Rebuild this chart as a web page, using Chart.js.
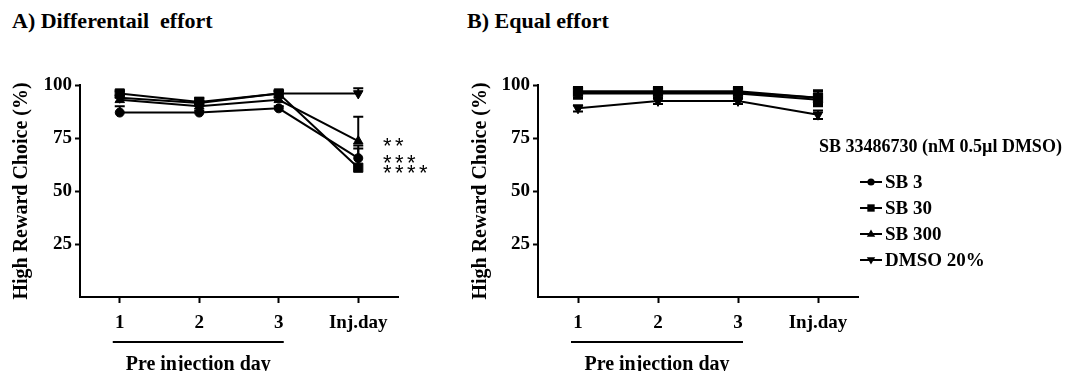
<!DOCTYPE html>
<html>
<head>
<meta charset="utf-8">
<script src="https://cdn.jsdelivr.net/npm/chart.js@4.4.1/dist/chart.umd.min.js"></script>
<style>
body { margin: 0; background: #fff; width: 1071px; height: 371px; overflow: hidden; position: relative; font-family: 'Liberation Serif', serif; }
.panel-title { position: absolute; top: 8px; font-weight: bold; font-size: 22px; white-space: pre; color: #000; }
canvas { position: absolute; top: 0; }
</style>
</head>
<body>
<div class="panel-title" style="left:12px">A) Differentail  effort</div>
<div class="panel-title" style="left:467px">B) Equal effort</div>
<canvas id="chartA" width="450" height="371" style="left:0"></canvas>
<canvas id="chartB" width="631" height="371" style="left:440px"></canvas>
<script>
// Categories and series names
const days = ['1', '2', '3', 'Inj.day'];
const seriesNames = ['SB 3', 'SB 30', 'SB 300', 'DMSO 20%'];
const legendTitle = 'SB 33486730 (nM 0.5\u00b5l DMSO)';

// A) Differential effort
const diffSB3 = [87, 87, 89, 65.5];
const diffSB30 = [96, 92, 96, 61];
const diffSB300 = [93, 90, 93, 73.5];
const diffDMSO = [94, 91.5, 96, 96];
const diffSB3Err = [3, 1, 1, 6];
const diffSB30Err = [1, 2, 1, 9];
const diffSB300Err = [1, 1, 1, 11.5];
const diffDMSOErr = [1, 1, 1, 2.5];
const diffStars = ['***', '****', '**', ''];

// B) Equal effort
const eqSB3 = [96.5, 96.5, 96.5, 94];
const eqSB30 = [97, 97, 97, 94];
const eqSB300 = [96, 96, 96, 93];
const eqDMSO = [89, 92.5, 92.5, 86];
const eqSB3Err = [2.5, 2.5, 2.5, 3];
const eqSB30Err = [2, 2, 2, 3.5];
const eqSB300Err = [2.5, 2.5, 2.5, 3];
const eqDMSOErr = [1.5, 1.5, 1.5, 2];

const markers = [
    { pointStyle: 'circle', radius: 4.5, rotation: 0 },
    { pointStyle: 'rect', radius: 6.5, rotation: 0 },
    { pointStyle: 'triangle', radius: 5.5, rotation: 0 },
    { pointStyle: 'triangle', radius: 5.5, rotation: 180 }
];

const serif = 'Liberation Serif';

function drawMarker(ctx, style, r, rot, x, y) {
    ctx.beginPath();
    if (style === 'circle') {
        ctx.arc(x, y, r, 0, Math.PI * 2);
    } else if (style === 'rect') {
        const s = r * Math.SQRT1_2;
        ctx.rect(x - s, y - s, 2 * s, 2 * s);
    } else {
        const d = rot === 180 ? -1 : 1;
        ctx.moveTo(x, y - d * r);
        ctx.lineTo(x + r * 0.95, y + d * r * 0.6);
        ctx.lineTo(x - r * 0.95, y + d * r * 0.6);
        ctx.closePath();
    }
    ctx.fill();
}

function makeDatasets(values, errors, stars) {
    return values.map((vals, i) => ({
        label: seriesNames[i],
        data: vals,
        errors: errors[i],
        star: stars ? stars[i] : '',
        borderColor: '#000',
        backgroundColor: '#000',
        borderWidth: 2,
        pointStyle: markers[i].pointStyle,
        pointRadius: markers[i].radius,
        pointRotation: markers[i].rotation,
        pointBackgroundColor: '#000',
        pointBorderColor: '#000',
        pointBorderWidth: 1,
        tension: 0,
        fill: false,
        clip: false
    }));
}

// error bars (upper only or both directions)
const errorBarPlugin = {
    id: 'errorBars',
    afterDatasetsDraw(chart, args, opts) {
        const ctx = chart.ctx;
        const ys = chart.scales.y;
        ctx.save();
        ctx.strokeStyle = '#000';
        ctx.lineWidth = 2;
        chart.data.datasets.forEach((ds, i) => {
            const meta = chart.getDatasetMeta(i);
            ds.data.forEach((v, j) => {
                const e = ds.errors[j];
                const x = meta.data[j].x;
                const top = ys.getPixelForValue(v + e);
                const bot = opts.both ? ys.getPixelForValue(v - e) : ys.getPixelForValue(v);
                ctx.beginPath();
                ctx.moveTo(x, top); ctx.lineTo(x, bot);
                ctx.moveTo(x - 5, top); ctx.lineTo(x + 5, top);
                if (opts.both) { ctx.moveTo(x - 5, bot); ctx.lineTo(x + 5, bot); }
                ctx.stroke();
            });
        });
        ctx.restore();
    }
};

// significance stars next to the injection day points
const starsPlugin = {
    id: 'stars',
    afterDatasetsDraw(chart) {
        const ctx = chart.ctx;
        ctx.save();
        ctx.fillStyle = '#000';
        ctx.font = '22px "Liberation Sans"';
        ctx.textAlign = 'center';
        ctx.textBaseline = 'alphabetic';
        chart.data.datasets.forEach((ds, i) => {
            if (!ds.star) return;
            const meta = chart.getDatasetMeta(i);
            const last = meta.data[meta.data.length - 1];
            for (let k = 0; k < ds.star.length; k++) {
                ctx.fillText('*', last.x + 29 + k * 12, last.y + 12);
            }
        });
        ctx.restore();
    }
};

// "Pre injection day" bracket under the first three days
const preInjPlugin = {
    id: 'preInj',
    afterDraw(chart) {
        const ctx = chart.ctx;
        const xs = chart.scales.x;
        const bottom = chart.chartArea.bottom;
        const x0 = xs.getPixelForValue(0) - 7;
        const x1 = xs.getPixelForValue(2) + 5;
        ctx.save();
        ctx.strokeStyle = '#000';
        ctx.lineWidth = 2;
        ctx.beginPath();
        ctx.moveTo(x0, bottom + 45);
        ctx.lineTo(x1, bottom + 45);
        ctx.stroke();
        ctx.fillStyle = '#000';
        ctx.font = 'bold 20px "' + serif + '"';
        ctx.textAlign = 'center';
        ctx.textBaseline = 'alphabetic';
        ctx.fillText('Pre injection day', (x0 + x1) / 2, bottom + 73);
        ctx.restore();
    }
};

// legend on the right of panel B
const sideLegendPlugin = {
    id: 'sideLegend',
    afterDraw(chart, args, opts) {
        if (!opts.show) return;
        const ctx = chart.ctx;
        ctx.save();
        ctx.fillStyle = '#000';
        ctx.strokeStyle = '#000';
        ctx.textBaseline = 'middle';
        ctx.textAlign = 'left';
        ctx.font = 'bold 18px "' + serif + '"';
        ctx.fillText(legendTitle, opts.x, opts.y);
        ctx.font = 'bold 19px "' + serif + '"';
        chart.data.datasets.forEach((ds, i) => {
            const y = opts.itemY + i * opts.step;
            ctx.lineWidth = 2;
            ctx.beginPath();
            ctx.moveTo(opts.lineX, y);
            ctx.lineTo(opts.lineX + 22, y);
            ctx.stroke();
            drawMarker(ctx, markers[i].pointStyle, markers[i].radius * 0.8, markers[i].rotation, opts.lineX + 11, y);
            ctx.fillText(ds.label, opts.lineX + 25, y + 1);
        });
        ctx.restore();
    }
};

function makeChart(id, datasets, cfg) {
    const tickFont = { family: serif, weight: 'bold', size: 19 };
    return new Chart(document.getElementById(id), {
        type: 'line',
        data: { labels: days, datasets: datasets },
        plugins: [errorBarPlugin, starsPlugin, preInjPlugin, sideLegendPlugin],
        options: {
            responsive: false,
            animation: false,
            layout: { padding: { top: 85, right: cfg.padRight, left: 0, bottom: 0 } },
            plugins: {
                legend: { display: false },
                tooltip: { enabled: false },
                errorBars: { both: cfg.bothErrors },
                sideLegend: cfg.legend
            },
            scales: {
                x: {
                    type: 'category',
                    offset: true,
                    afterFit: s => { s.height = 74; },
                    ticks: { color: '#000', font: tickFont, padding: 9, maxRotation: 0, autoSkip: false },
                    grid: { drawOnChartArea: false, drawTicks: true, tickLength: 6, tickWidth: 2, tickColor: '#000', color: '#000', offset: false },
                    border: { display: true, color: '#000', width: 2 }
                },
                y: {
                    min: 0,
                    max: 100,
                    afterBuildTicks: axis => { axis.ticks = axis.ticks.filter(t => t.value > 0); },
                    afterFit: s => { s.width = cfg.leftWidth; },
                    ticks: { stepSize: 25, color: '#000', font: tickFont, padding: 3 },
                    grid: { drawOnChartArea: false, drawTicks: true, tickLength: 5, tickWidth: 2, tickColor: '#000', color: '#000' },
                    border: { display: true, color: '#000', width: 2 },
                    title: {
                        display: true,
                        text: 'High Reward Choice (%)',
                        color: '#000',
                        font: { family: serif, weight: 'bold', size: 20 },
                        padding: { top: cfg.titlePad, bottom: 0 }
                    }
                }
            }
        }
    });
}

makeChart('chartA',
    makeDatasets([diffSB3, diffSB30, diffSB300, diffDMSO],
                 [diffSB3Err, diffSB30Err, diffSB300Err, diffDMSOErr], diffStars),
    { padRight: 52, leftWidth: 80, titlePad: 10, bothErrors: false, legend: { show: false } });

makeChart('chartB',
    makeDatasets([eqSB3, eqSB30, eqSB300, eqDMSO],
                 [eqSB3Err, eqSB30Err, eqSB300Err, eqDMSOErr], null),
    { padRight: 213, leftWidth: 98, titlePad: 29, bothErrors: true,
      legend: { show: true, x: 379, y: 147, lineX: 420, itemY: 182, step: 26 } });
</script>
</body>
</html>
